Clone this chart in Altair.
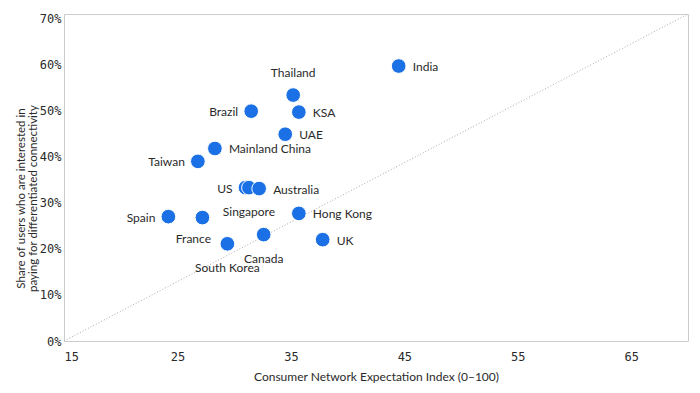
import altair as alt
import pandas as pd

countries = ["India", "Thailand", "Brazil", "KSA", "UAE", "Mainland China", "Taiwan",
             "US", "Singapore", "Australia", "Spain", "France", "Hong Kong",
             "Canada", "South Korea", "UK"]
expectation = [44.5, 35.2, 31.5, 35.7, 34.5, 28.3, 26.8,
               31.0, 31.3, 32.2, 24.2, 27.2, 35.7,
               32.6, 29.4, 37.8]
share = [0.597, 0.534, 0.499, 0.497, 0.449, 0.418, 0.390,
         0.333, 0.333, 0.331, 0.270, 0.268, 0.277,
         0.231, 0.211, 0.220]
placement = ["right", "top", "left", "right", "right", "right", "left",
             "left", "bottom", "right", "left", "bottomleft", "right",
             "bottom", "bottom", "right"]

ref_x = [15, 70]
ref_y = [0, 0.71]

df = pd.DataFrame({"country": countries, "x": expectation, "y": share, "place": placement})
ref = pd.DataFrame({"x": ref_x, "y": ref_y})

FONT = "Lato"
TXT = "#2a2a2a"
xs = alt.Scale(domain=[15, 70], nice=False, zero=False)
ys = alt.Scale(domain=[0, 0.71], nice=False)

xenc = alt.X("x:Q", scale=xs,
             axis=alt.Axis(values=[15, 25, 35, 45, 55, 65], title="Consumer Network Expectation Index (0\u2013100)",
                           grid=False, ticks=False, domain=False, labelPadding=10,
                           labelFont="DejaVu Sans Mono", labelFontSize=12, labelColor=TXT,
                           titleFont=FONT, titleFontSize=12, titleFontWeight="normal",
                           titleColor=TXT, titlePadding=9))
yenc = alt.Y("y:Q", scale=ys,
             axis=alt.Axis(values=[0, 0.1, 0.2, 0.3, 0.4, 0.5, 0.6, 0.7], format=".0%",
                           title=["Share of users who are interested in", "paying for differentiated connectivity"],
                           grid=False, ticks=False, domain=False, labelPadding=3,
                           labelFont="DejaVu Sans Mono", labelFontSize=12, labelColor=TXT,
                           titleFont=FONT, titleFontSize=11.5, titleFontWeight="normal",
                           titleColor=TXT, titlePadding=1, titleLineHeight=12, titleY=184))

line = alt.Chart(ref).mark_line(color="#aaaaaa", strokeDash=[1, 2], strokeWidth=1, clip=True).encode(
    x=alt.X("x:Q", scale=xs), y=alt.Y("y:Q", scale=ys))

pts = alt.Chart(df).mark_circle(size=215, color="#1a70e4", opacity=1, stroke="white", strokeWidth=1).encode(
    x=xenc, y=yenc)

def lab(place, **kw):
    return alt.Chart(df).transform_filter(alt.datum.place == place).mark_text(
        font=FONT, fontSize=12, color=TXT, **kw).encode(
        x=alt.X("x:Q", scale=xs), y=alt.Y("y:Q", scale=ys), text="country:N")

labels = [
    lab("right", align="left", baseline="middle", dx=14, dy=1),
    lab("left", align="right", baseline="middle", dx=-13, dy=1),
    lab("top", align="center", baseline="middle", dy=-22),
    lab("bottom", align="center", baseline="middle", dy=24),
    lab("bottomleft", align="center", baseline="middle", dx=-9, dy=21),
]

chart = alt.layer(line, pts, *labels).properties(
    width=624, height=327,
    autosize=alt.AutoSizeParams(type="none"),
    padding={"left": 56, "top": 6, "right": 4, "bottom": 50},
).configure_view(stroke="#cccccc", strokeWidth=1)

chart.save("out.html", embed_options={"renderer": "svg", "actions": False})
